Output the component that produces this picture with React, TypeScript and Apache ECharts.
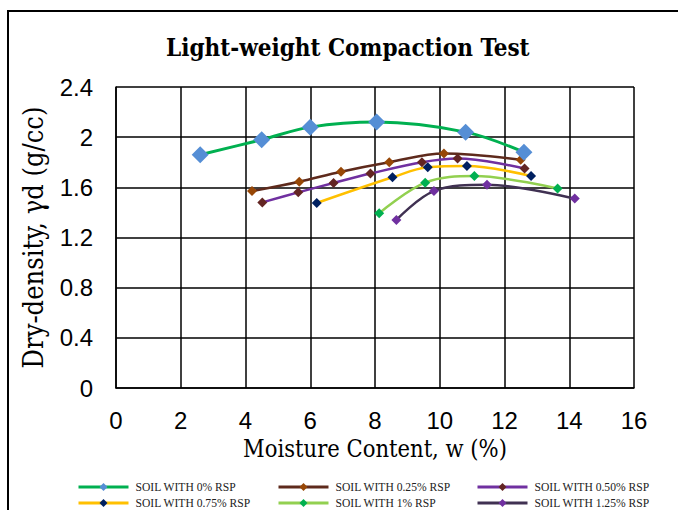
import React, { useEffect, useRef } from "react";
import * as echarts from "echarts";

const seriesNames = [
  "SOIL WITH 0% RSP",
  "SOIL WITH 0.25% RSP",
  "SOIL WITH 0.50% RSP",
  "SOIL WITH 0.75% RSP",
  "SOIL WITH 1% RSP",
  "SOIL WITH 1.25% RSP",
];

const rsp0: [number, number][] = [
  [2.6, 1.86], [4.5, 1.98], [6.0, 2.08], [8.05, 2.12], [10.8, 2.04], [12.6, 1.88],
];
const rsp025: [number, number][] = [
  [4.2, 1.57], [5.66, 1.645], [6.95, 1.725], [8.44, 1.8], [10.13, 1.87], [12.5, 1.82],
];
const rsp050: [number, number][] = [
  [4.52, 1.48], [5.63, 1.56], [6.72, 1.635], [7.86, 1.71], [9.45, 1.8], [10.55, 1.83], [12.62, 1.75],
];
const rsp075: [number, number][] = [
  [6.2, 1.475], [8.54, 1.68], [9.63, 1.76], [10.84, 1.77], [12.82, 1.69],
];
const rsp100: [number, number][] = [
  [8.13, 1.394], [9.55, 1.637], [11.07, 1.69], [13.64, 1.59],
];
const rsp125: [number, number][] = [
  [8.66, 1.34], [9.82, 1.57], [11.46, 1.62], [14.17, 1.51],
];

const xTicks = { min: 0, max: 16, interval: 2 };
const yTicks = { min: 0, max: 2.4, interval: 0.4 };

const lineColors = ["#00B050", "#5E2A1C", "#7030A0", "#FFC000", "#92D050", "#403152"];
const markerColors = ["#558ED5", "#974706", "#632523", "#002060", "#00B050", "#7030A0"];
const allData = [rsp0, rsp025, rsp050, rsp075, rsp100, rsp125];

const cambriaLike = "'DejaVu Serif Condensed', 'Liberation Serif', serif";
const serifFont = "'Liberation Serif', 'Times New Roman', serif";
const sansFont = "'Liberation Sans', Arial, sans-serif";

export default function App() {
  const ref = useRef<HTMLDivElement>(null);
  useEffect(() => {
    if (!ref.current) return;
    const chart = echarts.init(ref.current, null, { renderer: "svg" });
    const legendPos = [
      [77, 481], [277, 481], [476, 481],
      [77, 497], [277, 497], [476, 497],
    ];
    chart.setOption({
      animation: false,
      backgroundColor: "#fff",
      title: {
        text: "Light-weight Compaction Test",
        left: 166,
        top: 35,
        padding: 0,
        textStyle: {
          fontFamily: cambriaLike,
          fontWeight: "bold",
          fontSize: 24,
          color: "#000",
        },
      },
      graphic: [
        {
          type: "rect",
          shape: { x: 8, y: 11, width: 720, height: 560 },
          style: { fill: "none", stroke: "#000", lineWidth: 2 },
          silent: true,
        },
      ],
      legend: seriesNames.map((n, i) => ({
        data: [n],
        left: legendPos[i][0],
        top: legendPos[i][1],
        itemWidth: 50,
        itemHeight: 10,
        padding: 0,
        lineStyle: { width: 3 },
        textStyle: { fontFamily: serifFont, fontSize: 11.6, color: "#222", padding: [0, 0, 0, 2] },
      })),
      grid: {
        left: 116,
        top: 87,
        width: 518,
        height: 301,
        outerBoundsMode: "none",
      },
      xAxis: {
        type: "value",
        min: xTicks.min,
        max: xTicks.max,
        interval: xTicks.interval,
        name: "Moisture Content, w (%)",
        nameLocation: "middle",
        nameGap: 47,
        nameTextStyle: { fontFamily: cambriaLike, fontSize: 23.5, color: "#000" },
        axisLine: { show: true, lineStyle: { color: "#000", width: 1.5 } },
        axisTick: { show: false },
        axisLabel: { fontFamily: sansFont, fontSize: 24, color: "#000", margin: 20 },
        splitLine: { show: true, lineStyle: { color: "#000", width: 1.5 } },
      },
      yAxis: {
        type: "value",
        min: yTicks.min,
        max: yTicks.max,
        interval: yTicks.interval,
        name: "Dry-density, γd (g/cc)",
        nameLocation: "middle",
        nameGap: 69,
        nameTextStyle: { fontFamily: cambriaLike, fontSize: 27, color: "#000" },
        axisLine: { show: true, lineStyle: { color: "#000", width: 1.5 } },
        axisTick: { show: false },
        axisLabel: { fontFamily: sansFont, fontSize: 24, color: "#000", margin: 23 },
        splitLine: { show: true, lineStyle: { color: "#000", width: 1.5 } },
      },
      series: allData.map((d, i) => ({
        type: "line",
        name: seriesNames[i],
        data: d,
        smooth: 0.35,
        symbol: "diamond",
        symbolSize: i === 0 ? 17 : 10,
        lineStyle: { color: lineColors[i], width: i === 0 ? 3 : 2.5 },
        itemStyle: { color: markerColors[i] },
        z: 2 + (allData.length - i),
      })),
    });
    return () => chart.dispose();
  }, []);
  return (
    <div
      ref={ref}
      style={{ position: "absolute", left: 0, top: 0, width: 678, height: 510 }}
    />
  );
}
